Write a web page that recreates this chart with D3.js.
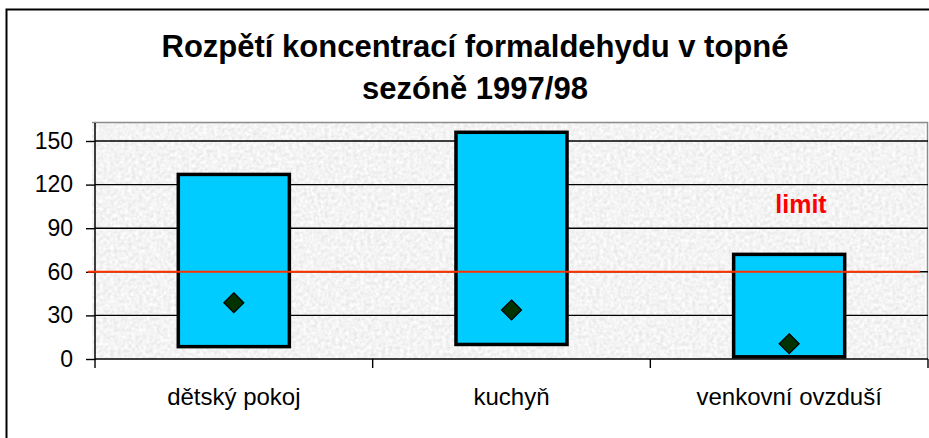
<!DOCTYPE html>
<html>
<head>
    <meta charset="UTF-8"/>
    <style>
        body {
            margin: 0;
            background: #fff;
            font-family: "Liberation Sans", Arial, Helvetica, sans-serif;
        }
        svg { display: block; }
    </style>
</head>
<body>
<script src="https://d3js.org/d3.v7.min.js"></script>
<div id="my_dataviz"></div>
<script>

    // chart data
    var categories = ["dětský pokoj", "kuchyň", "venkovní ovzduší"];
    var minValues  = [8.5, 10, 1.5];
    var maxValues  = [127, 156, 72];
    var meanValues = [38.7, 33.7, 10.5];
    var yTicks     = [0, 30, 60, 90, 120, 150];
    var limitValue = 60;
    var titleLines = ["Rozpětí koncentrací formaldehydu v topné", "sezóně 1997/98"];

    var width = 929, height = 438;

    // plot area (don't call it "top", window.top is taken)
    var plotLeft = 95, plotRight = 928, plotTop = 123, plotBottom = 359;

    var svg = d3.select("#my_dataviz")
        .append("svg")
        .attr("width", width)
        .attr("height", height);

    // speckled grey texture of the plot area
    var defs = svg.append("defs");
    var filt = defs.append("filter")
        .attr("id", "granite")
        .attr("x", 0).attr("y", 0).attr("width", 1).attr("height", 1);
    filt.append("feTurbulence")
        .attr("type", "fractalNoise")
        .attr("baseFrequency", 0.28)
        .attr("numOctaves", 3)
        .attr("seed", 4)
        .attr("result", "noise");
    filt.append("feColorMatrix")
        .attr("in", "noise")
        .attr("type", "matrix")
        .attr("values", "0.32 0 0 0 0.74  0.32 0 0 0 0.74  0.32 0 0 0 0.74  0 0 0 0 1");

    // outer chart frame (cut by the picture on right and bottom)
    svg.append("rect")
        .attr("x", 6.5).attr("y", 9.5)
        .attr("width", 1000).attr("height", 1000)
        .style("fill", "none")
        .style("stroke", "black")
        .style("stroke-width", 2);

    // title
    svg.selectAll(".title")
        .data(titleLines)
        .enter()
        .append("text")
        .attr("class", "title")
        .attr("x", 475)
        .attr("y", function(d, i){ return 57 + i * 42 })
        .attr("text-anchor", "middle")
        .attr("font-size", "31px")
        .attr("font-weight", "bold")
        .attr("fill", "black")
        .text(function(d){ return d });

    // scales
    var y = d3.scaleLinear()
        .domain([0, 150])
        .range([plotBottom, 141]);

    var x = d3.scaleBand()
        .domain(categories)
        .range([plotLeft, plotRight])
        .paddingInner(0.6)
        .paddingOuter(0.3);

    // plot area background
    svg.append("rect")
        .attr("x", 92).attr("y", plotTop)
        .attr("width", 833).attr("height", plotBottom - plotTop)
        .attr("filter", "url(#granite)");
    svg.append("path")
        .attr("d", "M92," + (plotTop - 0.5) + "H" + (plotRight - 0.5) + "V" + plotBottom)
        .style("fill", "none")
        .style("stroke", "#8c8c8c")
        .style("stroke-width", 1.5);

    // gridlines
    svg.selectAll(".grid")
        .data(yTicks.filter(function(d){ return d > 0 }))
        .enter()
        .append("line")
        .attr("x1", plotLeft).attr("x2", plotRight)
        .attr("y1", function(d){ return y(d) })
        .attr("y2", function(d){ return y(d) })
        .style("stroke", "black")
        .style("stroke-width", 1.4);

    // y axis
    var yAxis = svg.append("g")
        .attr("transform", "translate(" + plotLeft + ",0)")
        .call(d3.axisLeft(y).tickValues(yTicks).tickSize(9).tickSizeOuter(0).tickPadding(13));
    yAxis.select(".domain").remove();
    yAxis.selectAll("line").style("stroke", "black").style("stroke-width", 1.4);
    yAxis.selectAll("text")
        .attr("font-size", "23px")
        .attr("font-family", "Liberation Sans, Arial, sans-serif")
        .attr("fill", "black");
    svg.append("line")
        .attr("x1", plotLeft).attr("x2", plotLeft)
        .attr("y1", plotTop).attr("y2", plotBottom + 1)
        .style("stroke", "black").style("stroke-width", 1.5);

    // x axis with ticks between categories
    var step = x.step();
    var boundaries = [0, 1, 2, 3].map(function(i){ return plotLeft + i * step });
    svg.append("line")
        .attr("x1", plotLeft).attr("x2", plotRight)
        .attr("y1", plotBottom).attr("y2", plotBottom)
        .style("stroke", "black").style("stroke-width", 1.5);
    svg.selectAll(".xtick")
        .data(boundaries)
        .enter()
        .append("line")
        .attr("x1", function(d){ return d }).attr("x2", function(d){ return d })
        .attr("y1", plotBottom).attr("y2", plotBottom + 9)
        .style("stroke", "black").style("stroke-width", 1.4);
    svg.selectAll(".xlabel")
        .data(categories)
        .enter()
        .append("text")
        .attr("x", function(d){ return x(d) + x.bandwidth() / 2 })
        .attr("y", 405)
        .attr("text-anchor", "middle")
        .attr("font-size", "24px")
        .attr("fill", "black")
        .text(function(d){ return d });

    // floating bars min..max
    svg.selectAll(".bar")
        .data(categories)
        .enter()
        .append("rect")
        .attr("x", function(d){ return x(d) })
        .attr("y", function(d, i){ return y(maxValues[i]) })
        .attr("width", x.bandwidth())
        .attr("height", function(d, i){ return y(minValues[i]) - y(maxValues[i]) })
        .style("fill", "#00CCFF")
        .style("stroke", "black")
        .style("stroke-width", 3.5);

    // limit line
    svg.append("line")
        .attr("x1", 88).attr("x2", 920)
        .attr("y1", y(limitValue)).attr("y2", y(limitValue))
        .style("stroke", "#FF3300")
        .style("stroke-width", 2);

    svg.append("text")
        .attr("x", 801)
        .attr("y", 213)
        .attr("text-anchor", "middle")
        .attr("font-size", "25px")
        .attr("font-weight", "bold")
        .attr("fill", "#FF0000")
        .text("limit");

    // mean markers
    svg.selectAll(".mean")
        .data(categories)
        .enter()
        .append("path")
        .attr("transform", function(d, i){
            return "translate(" + (x(d) + x.bandwidth() / 2) + "," + y(meanValues[i]) + ")";
        })
        .attr("d", "M0,-10L10,0L0,10L-10,0Z")
        .style("fill", "#003300")
        .style("stroke", "black")
        .style("stroke-width", 1.2);

</script>
</body>
</html>
